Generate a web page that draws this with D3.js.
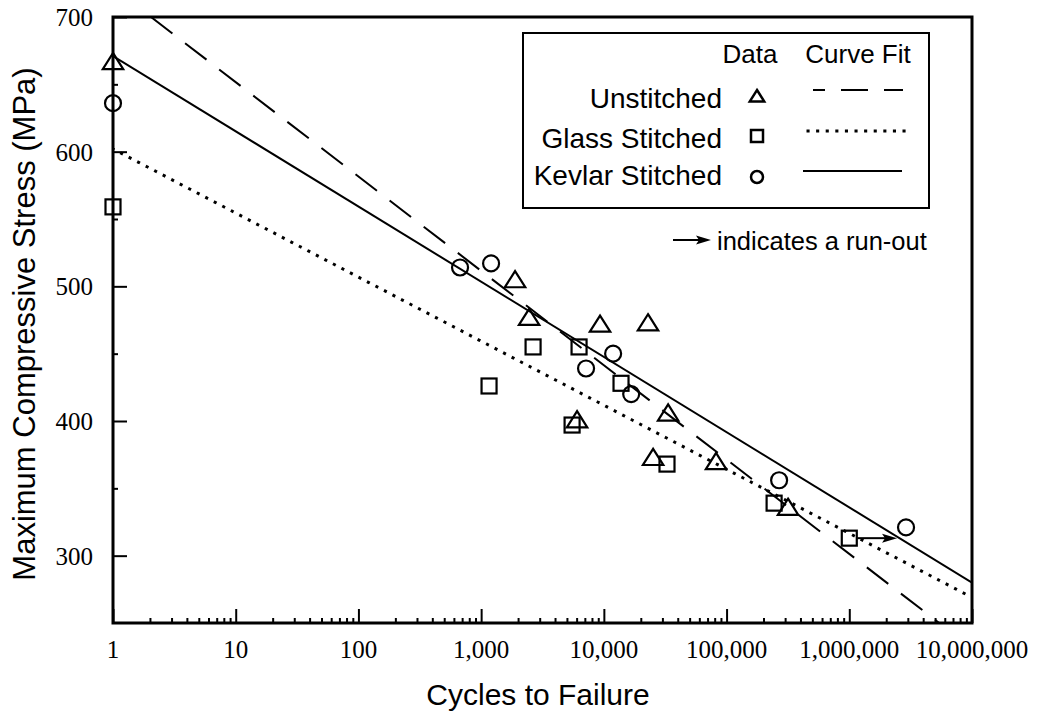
<!DOCTYPE html>
<html><head><meta charset="utf-8">
<script src="https://cdn.jsdelivr.net/npm/d3@7"></script>
<style>
html,body{margin:0;padding:0;background:#fff;}
svg{display:block;}
</style></head>
<body>
<svg id="chart" width="1040" height="717"></svg>
<script>
// ---------- data ----------
const unstitchedCycles = [1, 1890, 2460, 9310, 22900, 6050, 33400, 25200, 82100, 317000];
const unstitchedStress = [667, 505, 477, 472, 473, 401, 406, 373, 370, 336];
const glassCycles = [1, 2650, 6280, 1160, 13800, 5510, 32700, 244000, 1000000];
const glassStress = [559, 455, 455, 426, 428, 397, 368, 339, 313];
const glassRunout = [false, false, false, false, false, false, false, false, true];
const runoutArrowEnd = [2450000];
const kevlarCycles = [1, 673, 1205, 11900, 7160, 16700, 268000, 2900000];
const kevlarStress = [636, 514, 517, 450, 439, 420, 356, 321];
// curve-fit lines (endpoints)
const unstitchedFitCycles = [2.04, 5400000];
const unstitchedFitStress = [700, 250];
const glassFitCycles = [1, 10000000];
const glassFitStress = [602, 269];
const kevlarFitCycles = [1, 10000000];
const kevlarFitStress = [671, 280];
const xTickValues = [1, 10, 100, 1000, 10000, 100000, 1000000, 10000000];
const xTickLabels = ["1", "10", "100", "1,000", "10,000", "100,000", "1,000,000", "10,000,000"];
const yTickValues = [300, 400, 500, 600, 700];
const yMinorTicks = [350, 450, 550, 650];
const legendNames = ["Unstitched", "Glass Stitched", "Kevlar Stitched"];

// ---------- layout ----------
const svg = d3.select("#chart");
const L = 113, R = 972, T = 17, B = 623;
const x = d3.scaleLog().domain([1, 1e7]).range([L, R]);
const y = d3.scaleLinear().domain([250, 700]).range([B, T]);
const serif = "'Liberation Serif','Times New Roman',serif";
const sans = "'Liberation Sans',Arial,Helvetica,sans-serif";

svg.append("defs").append("clipPath").attr("id", "clip").append("rect")
  .attr("x", L).attr("y", T).attr("width", R - L).attr("height", B - T);

function arrow(x1, x2, yy) {
  svg.append("line").attr("x1", x1).attr("x2", x2 - 10).attr("y1", yy).attr("y2", yy)
    .attr("stroke", "#000").attr("stroke-width", 2);
  svg.append("path")
    .attr("d", `M${x2},${yy} L${x2 - 15},${yy - 4.5} L${x2 - 12},${yy} L${x2 - 15},${yy + 4.5} Z`)
    .attr("fill", "#000");
}

// ---------- fit lines ----------
const line = d3.line().x(d => x(d[0])).y(d => y(d[1]));
const fits = [
  {c: unstitchedFitCycles, s: unstitchedFitStress, dash: "27,16", w: 2, cap: "butt"},
  {c: glassFitCycles, s: glassFitStress, dash: "0.1,9.5", w: 3, cap: "square"},
  {c: kevlarFitCycles, s: kevlarFitStress, dash: null, w: 2, cap: "butt"}
];
const gFit = svg.append("g").attr("clip-path", "url(#clip)");
fits.forEach(f => {
  gFit.append("path").datum(f.c.map((c, i) => [c, f.s[i]]))
    .attr("d", line).attr("fill", "none").attr("stroke", "#000")
    .attr("stroke-width", f.w).attr("stroke-dasharray", f.dash)
    .attr("stroke-linecap", f.cap);
});

// ---------- markers ----------
const triPath = (s) => `M0,${-s*0.5} L${s*0.6},${s*0.45} L${-s*0.6},${s*0.45} Z`;
const gPts = svg.append("g").attr("fill", "none").attr("stroke", "#000").attr("stroke-width", 2.2);
gPts.selectAll(".tri").data(unstitchedCycles.map((c, i) => [c, unstitchedStress[i]]))
  .join("path").attr("d", triPath(17))
  .attr("transform", d => `translate(${x(d[0])},${y(d[1])})`);
gPts.selectAll(".sq").data(glassCycles.map((c, i) => [c, glassStress[i]]))
  .join("rect").attr("width", 15).attr("height", 15)
  .attr("x", d => x(d[0]) - 7.5).attr("y", d => y(d[1]) - 7.5);
gPts.selectAll(".ci").data(kevlarCycles.map((c, i) => [c, kevlarStress[i]]))
  .join("circle").attr("r", 8)
  .attr("cx", d => x(d[0])).attr("cy", d => y(d[1]));
// run-out arrows
glassCycles.forEach((c, i) => {
  if (!glassRunout[i]) return;
  arrow(x(c) + 8, x(runoutArrowEnd[0]), y(glassStress[i]));
});

// ---------- axes ----------
const gx = svg.append("g").attr("transform", `translate(0,${B})`);
gx.call(d3.axisTop(x).tickValues(xTickValues).tickSize(14).tickFormat(""));
const minorX = [];
for (let e = 0; e < 7; e++) for (let k = 2; k <= 9; k++) minorX.push(k * Math.pow(10, e));
gx.append("g").call(d3.axisTop(x).tickValues(minorX).tickSize(5).tickFormat(""));
gx.selectAll(".domain").remove();
gx.selectAll("line").attr("stroke", "#000").attr("stroke-width", 2);
gx.selectAll(".xl").data(xTickValues).join("text")
  .attr("x", d => x(d)).attr("y", 658 - B).attr("text-anchor", "middle")
  .attr("font-family", serif).attr("font-size", 25).attr("fill", "#000")
  .text((d, i) => xTickLabels[i]);

const gy = svg.append("g").attr("transform", `translate(${L},0)`);
gy.call(d3.axisRight(y).tickValues(yTickValues).tickSize(14).tickFormat(""));
gy.append("g").call(d3.axisRight(y).tickValues(yMinorTicks).tickSize(5).tickFormat(""));
gy.selectAll(".domain").remove();
gy.selectAll("line").attr("stroke", "#000").attr("stroke-width", 2);
gy.selectAll(".yl").data(yTickValues).join("text")
  .attr("x", 93 - L).attr("y", d => y(d) + 9).attr("text-anchor", "end")
  .attr("font-family", serif).attr("font-size", 25).attr("fill", "#000")
  .text(d => d);

// frame
svg.append("path").attr("d", `M${L},${T} L${R},${T} L${R},${B} L${L},${B} Z`)
  .attr("fill", "none").attr("stroke", "#000").attr("stroke-width", 3);

// titles
svg.append("text").attr("x", 538).attr("y", 705).attr("text-anchor", "middle")
  .attr("font-family", sans).attr("font-size", 30).text("Cycles to Failure");
svg.append("text").attr("transform", "translate(35,324) rotate(-90)").attr("text-anchor", "middle")
  .attr("font-family", sans).attr("font-size", 31).text("Maximum Compressive Stress (MPa)");

// ---------- legend ----------
const lg = svg.append("g");
lg.append("rect").attr("x", 523).attr("y", 33).attr("width", 406).attr("height", 175)
  .attr("fill", "#fff").attr("stroke", "#000").attr("stroke-width", 2);
lg.append("text").attr("x", 750).attr("y", 63).attr("text-anchor", "middle")
  .attr("font-family", sans).attr("font-size", 26).text("Data");
lg.append("text").attr("x", 858).attr("y", 63).attr("text-anchor", "middle")
  .attr("font-family", sans).attr("font-size", 26).text("Curve Fit");
const rowsY = [108, 148, 185];
legendNames.forEach((n, i) => {
  lg.append("text").attr("x", 722).attr("y", rowsY[i]).attr("text-anchor", "end")
    .attr("font-family", sans).attr("font-size", 28).text(n);
});
lg.append("path").attr("d", triPath(12)).attr("transform", "translate(757,96)")
  .attr("fill", "none").attr("stroke", "#000").attr("stroke-width", 2.5);
lg.append("rect").attr("x", 751).attr("y", 130).attr("width", 12).attr("height", 12)
  .attr("fill", "none").attr("stroke", "#000").attr("stroke-width", 2.5);
lg.append("circle").attr("cx", 757).attr("cy", 177).attr("r", 6)
  .attr("fill", "none").attr("stroke", "#000").attr("stroke-width", 2.5);
lg.append("line").attr("x1", 813).attr("x2", 903).attr("y1", 90).attr("y2", 90)
  .attr("stroke", "#000").attr("stroke-width", 2).attr("stroke-dasharray", "27,16").attr("stroke-dashoffset", 15);
lg.append("line").attr("x1", 808).attr("x2", 905).attr("y1", 131).attr("y2", 131)
  .attr("stroke", "#000").attr("stroke-width", 3).attr("stroke-dasharray", "0.1,9.5").attr("stroke-linecap", "square");
lg.append("line").attr("x1", 803).attr("x2", 902).attr("y1", 171).attr("y2", 171)
  .attr("stroke", "#000").attr("stroke-width", 2);

// run-out note
arrow(673, 711, 240);
svg.append("text").attr("x", 717).attr("y", 250).attr("font-family", sans)
  .attr("font-size", 25.5).text("indicates a run-out");
</script>
</body></html>
